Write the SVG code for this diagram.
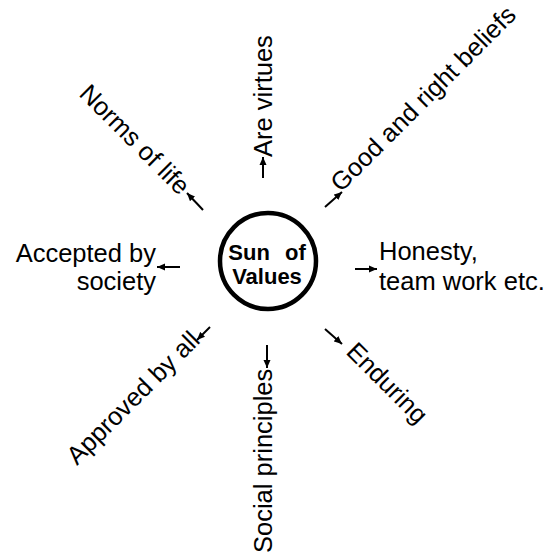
<svg xmlns="http://www.w3.org/2000/svg" width="553" height="554" viewBox="0 0 553 554">
  <style>
    .lbl { font-family: "Liberation Sans", Arial, sans-serif; font-size: 25.5px; fill: #000; }
    .ctr { font-family: "Liberation Sans", Arial, sans-serif; font-size: 22px; font-weight: bold; fill: #000; text-anchor: middle; }
    .conn { stroke: #000; stroke-width: 2; fill: none; marker-end: url(#ah); }
  </style>
  <defs>
    <marker id="ah" markerUnits="userSpaceOnUse" markerWidth="9" markerHeight="8" refX="8" refY="4" orient="auto">
      <path d="M0,0.5 L8,4 L0,7.5 z" fill="#000"/>
    </marker>
  </defs>
  <rect width="553" height="554" fill="#fff"/>

  <g id="center">
    <circle cx="268" cy="261" r="48" fill="#fff" stroke="#000" stroke-width="4.5"/>
    <text class="ctr" x="267" y="260" word-spacing="9">Sun of</text>
    <text class="ctr" x="267" y="284">Values</text>
  </g>

  <g id="connectors">
    <line class="conn" x1="263" y1="178" x2="263" y2="157"/>
    <line class="conn" x1="325" y1="207" x2="342" y2="192"/>
    <line class="conn" x1="355" y1="269" x2="377" y2="269"/>
    <line class="conn" x1="325" y1="329" x2="342" y2="344"/>
    <line class="conn" x1="267" y1="345" x2="267" y2="368"/>
    <line class="conn" x1="210" y1="327" x2="197" y2="340"/>
    <line class="conn" x1="180" y1="267" x2="157" y2="267"/>
    <line class="conn" x1="203" y1="210" x2="187" y2="193"/>
  </g>

  <g id="are-virtues">
    <text class="lbl" transform="translate(272,157) rotate(-90)">Are virtues</text>
  </g>
  <g id="good-beliefs">
    <text class="lbl" transform="translate(341,193) rotate(-45)">Good and right beliefs</text>
  </g>
  <g id="honesty">
    <text class="lbl" x="379" y="260">Honesty,</text>
    <text class="lbl" x="379" y="290">team work etc.</text>
  </g>
  <g id="enduring">
    <text class="lbl" transform="translate(345,353) rotate(45)">Enduring</text>
  </g>
  <g id="social-principles">
    <text class="lbl" transform="translate(272,553) rotate(-90)">Social principles</text>
  </g>
  <g id="approved">
    <text class="lbl" transform="translate(77,466) rotate(-45)">Approved by all</text>
  </g>
  <g id="accepted">
    <text class="lbl" x="156" y="262" text-anchor="end">Accepted by</text>
    <text class="lbl" x="156" y="290" text-anchor="end">society</text>
  </g>
  <g id="norms">
    <text class="lbl" transform="translate(78,95) rotate(45)">Norms of life</text>
  </g>
</svg>
